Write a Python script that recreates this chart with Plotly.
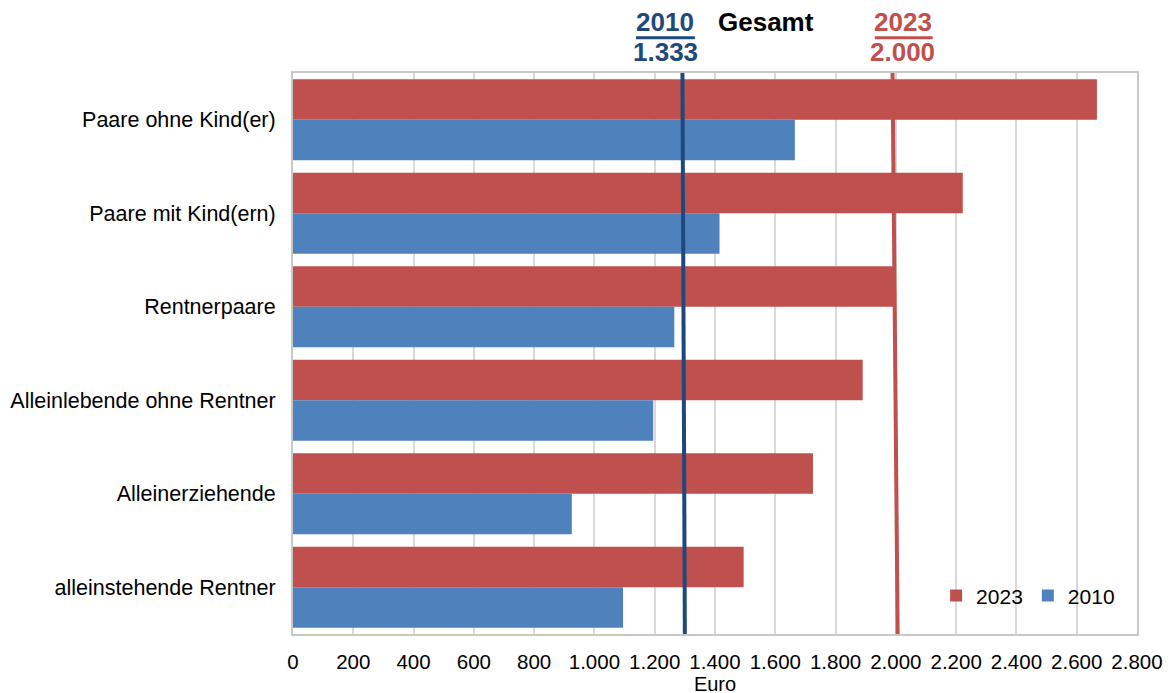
import plotly.graph_objects as go

categories = ["Paare ohne Kind(er)", "Paare mit Kind(ern)", "Rentnerpaare",
              "Alleinlebende ohne Rentner", "Alleinerziehende", "alleinstehende Rentner"]
values_2023 = [2667, 2222, 1995, 1890, 1725, 1495]
values_2010 = [1665, 1415, 1265, 1195, 925, 1095]
gesamt_2010_line = [1292, 1300]   # drawn position top, bottom
gesamt_2023_line = [1989, 2006]
gesamt_labels = {"2010": "1.333", "2023": "2.000"}
tick_vals = list(range(0, 2801, 200))
tick_text = [f"{v:,}".replace(",", ".") for v in tick_vals]

RED = "#C0504D"
BLUE = "#4F81BD"
DBLUE = "#1F497D"
FONT = "Liberation Sans, Arial, sans-serif"

fig = go.Figure()
fig.add_trace(go.Bar(y=categories, x=values_2023, orientation="h", name="2023",
                     marker=dict(color=RED, line=dict(width=0))))
fig.add_trace(go.Bar(y=categories, x=values_2010, orientation="h", name="2010",
                     marker=dict(color=BLUE, line=dict(width=0))))
fig.add_trace(go.Scatter(x=gesamt_2010_line, y=[1, 0], yaxis="y2", mode="lines",
                         line=dict(color=DBLUE, width=4), showlegend=False, hoverinfo="skip"))
fig.add_trace(go.Scatter(x=gesamt_2023_line, y=[1, 0], yaxis="y2", mode="lines",
                         line=dict(color=RED, width=4), showlegend=False, hoverinfo="skip"))

fig.update_layout(
    width=1173, height=693,
    margin=dict(l=285, r=44, t=65, b=67),
    paper_bgcolor="white", plot_bgcolor="white",
    font=dict(family=FONT, size=20, color="black"),
    barmode="group", bargap=0.134, bargroupgap=0,
    xaxis=dict(range=[0, 2800], tickvals=tick_vals, ticktext=tick_text,
               showgrid=True, gridcolor="#D9D9D9", gridwidth=2,
               showline=True, linecolor="#C8C8C8", linewidth=2, mirror=True,
               zeroline=False, ticks="", tickfont=dict(size=20.5), ticklabelstandoff=8,
               automargin=False,
               title=dict(text="Euro", font=dict(size=20), standoff=0)),
    yaxis=dict(autorange="reversed", showgrid=False, showline=True,
               linecolor="#C8C8C8", linewidth=2, mirror=True, automargin=False,
               ticks="", ticklabelstandoff=11, tickfont=dict(size=21.5)),
    yaxis2=dict(overlaying="y", range=[0, 1], visible=False, fixedrange=True),
    legend=dict(orientation="h", x=0.98, xanchor="right", y=0.068, yanchor="middle",
                font=dict(size=21), bgcolor="rgba(0,0,0,0)", traceorder="normal"),
    showlegend=True,
)

ann_font = dict(family=FONT, size=26)
def ann(x, y, text, color):
    fig.add_annotation(x=x, y=y, xref="x", yref="paper", text=text, showarrow=False,
                       xanchor="center", yanchor="middle", font=dict(ann_font, color=color))

ann(1234, 1.091, "<b>2010</b>", DBLUE)
ann(1236, 1.037, "<b>" + gesamt_labels["2010"] + "</b>", DBLUE)
ann(1569, 1.091, "<b>Gesamt</b>", "black")
ann(2023, 1.091, "<b>2023</b>", RED)
ann(2023, 1.037, "<b>" + gesamt_labels["2023"] + "</b>", RED)

# underlines
fig.add_shape(type="line", xref="x", yref="paper", x0=1138, x1=1333, y0=1.063, y1=1.063,
              line=dict(color=DBLUE, width=3))
fig.add_shape(type="line", xref="x", yref="paper", x0=1930, x1=2122, y0=1.063, y1=1.063,
              line=dict(color=RED, width=3))

fig.write_html("out.html")
